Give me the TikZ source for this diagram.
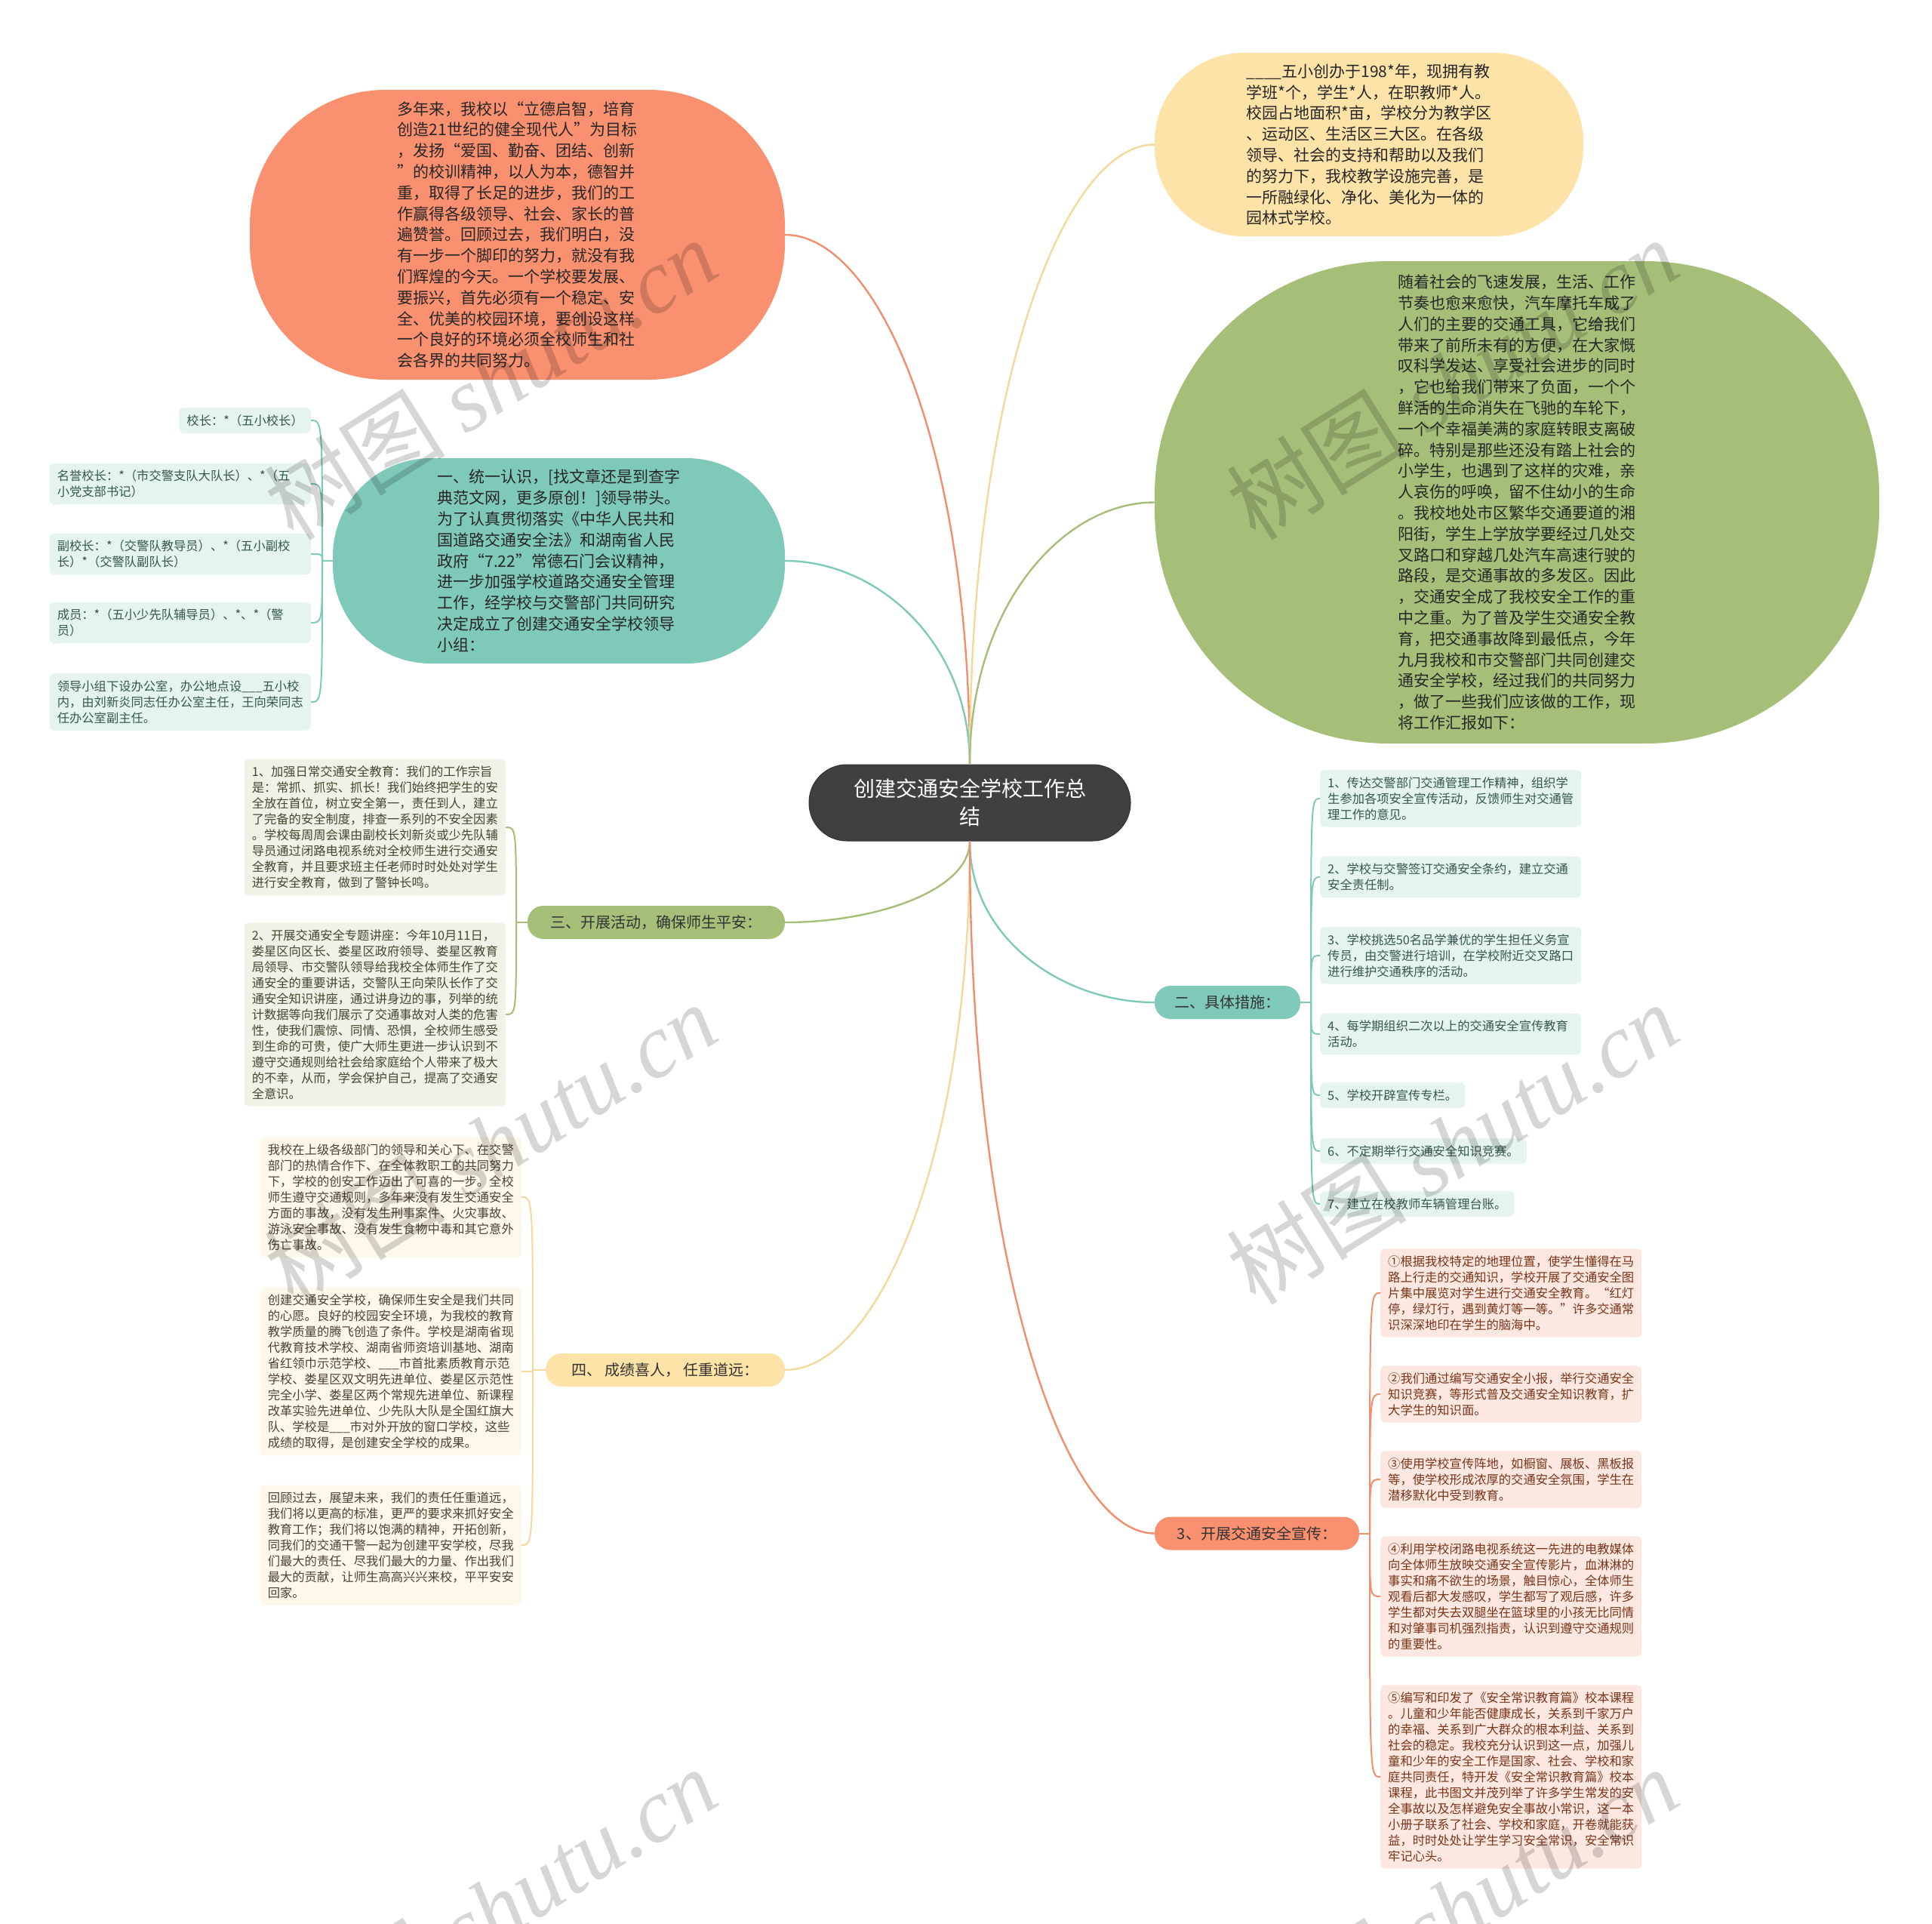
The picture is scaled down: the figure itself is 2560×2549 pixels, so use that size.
\documentclass[tikz,border=0pt]{standalone}
\usepackage{fontspec}
\setmainfont{Noto Sans CJK SC}
\newfontfamily\wmserif{Liberation Serif}
\usetikzlibrary{calc}
\definecolor{cOrange}{HTML}{F9906F}
\definecolor{cOrangeL}{HTML}{FDE8E1}
\definecolor{cOrangeT}{HTML}{7A3418}
\definecolor{cOrangeLine}{HTML}{F08E6E}
\definecolor{cTeal}{HTML}{7FC9B9}
\definecolor{cTealL}{HTML}{E6F4F0}
\definecolor{cTealT}{HTML}{34574F}
\definecolor{cGreen}{HTML}{A5BE78}
\definecolor{cGreenL}{HTML}{EFF2E6}
\definecolor{cGreenT}{HTML}{414A2E}
\definecolor{cYellow}{HTML}{FDE3A7}
\definecolor{cYellowL}{HTML}{FEF8EB}
\definecolor{cYellowT}{HTML}{4B4232}
\definecolor{cYellowLine}{HTML}{F5D99B}
\definecolor{cDark}{HTML}{404040}
\tikzset{
  ctrnode/.style={fill=cDark, draw=black!80, line width=1pt, text=white, align=center,
    font=\fontsize{28pt}{37pt}\selectfont, inner sep=0pt},
  bigshape/.style={align=left, inner sep=0pt, font=\fontsize{21pt}{27.8pt}\selectfont, text=black!85},
  mainlabel/.style={inner sep=0pt, minimum height=44pt, rounded corners=21pt,
    font=\fontsize{20pt}{24pt}\selectfont, text=black!80},
  leaf/.style={align=left, inner xsep=10pt, inner ysep=9pt, rounded corners=6pt,
    font=\fontsize{16.3pt}{21pt}\selectfont},
  wide/.style={text width=326pt},
  oleaf/.style={leaf, fill=cOrangeL, text=cOrangeT},
  tleaf/.style={leaf, fill=cTealL, text=cTealT},
  gleaf/.style={leaf, fill=cGreenL, text=cGreenT},
  yleaf/.style={leaf, fill=cYellowL, text=cYellowT},
  oline/.style={draw=cOrangeLine, line width=2.4pt},
  tline/.style={draw=cTeal, line width=2.4pt},
  gline/.style={draw=cGreen, line width=2.4pt},
  yline/.style={draw=cYellowLine, line width=2.4pt},
  osub/.style={draw=cOrangeLine, line width=2pt},
  tsub/.style={draw=cTeal, line width=2pt},
  gsub/.style={draw=cGreen, line width=2pt},
  ysub/.style={draw=cYellowLine, line width=2pt},
  wm/.style={text=black, text opacity=0.16, rotate=32, inner sep=0pt,
    font=\fontsize{120pt}{120pt}\selectfont}
}
\begin{document}
\begin{tikzpicture}[x=1pt,y=-1pt]
\fill[white] (0,0) rectangle (2560,2549);
\useasboundingbox (0,0) rectangle (2560,2549);

% ---------- center ----------
\node[ctrnode, minimum width=426pt, minimum height=101pt, rounded corners=50pt] (ctr) at (1285,1063.5)
  {创建交通安全学校工作总\\结};

% ---------- main shapes ----------
\node[bigshape, fill=cOrange, minimum width=709pt, minimum height=384pt, rounded corners=180pt] (A) at (685.5,311) {%
多年来，我校以“立德启智，培育\\
创造21世纪的健全现代人”为目标\\
，发扬“爱国、勤奋、团结、创新\\
”的校训精神，以人为本，德智并\\
重，取得了长足的进步，我们的工\\
作赢得各级领导、社会、家长的普\\
遍赞誉。回顾过去，我们明白，没\\
有一步一个脚印的努力，就没有我\\
们辉煌的今天。一个学校要发展、\\
要振兴，首先必须有一个稳定、安\\
全、优美的校园环境，要创设这样\\
一个良好的环境必须全校师生和社\\
会各界的共同努力。};

\node[bigshape, fill=cTeal, minimum width=599pt, minimum height=272pt, rounded corners=130pt] (B) at (740.5,743) {%
一、统一认识，[找文章还是到查字\\
典范文网，更多原创！]领导带头。\\
为了认真贯彻落实《中华人民共和\\
国道路交通安全法》和湖南省人民\\
政府“7.22”常德石门会议精神，\\
进一步加强学校道路交通安全管理\\
工作，经学校与交警部门共同研究\\
决定成立了创建交通安全学校领导\\
小组：};

\node[bigshape, fill=cYellow, minimum width=568pt, minimum height=243pt, rounded corners=118pt] (TR) at (1814,191.5) {%
\_\_\_\_五小创办于198*年，现拥有教\\
学班*个，学生*人，在职教师*人。\\
校园占地面积*亩，学校分为教学区\\
、运动区、生活区三大区。在各级\\
领导、社会的支持和帮助以及我们\\
的努力下，我校教学设施完善，是\\
一所融绿化、净化、美化为一体的\\
园林式学校。};

\node[bigshape, fill=cGreen, minimum width=960pt, minimum height=639pt, rounded corners=310pt] (G) at (2010,665.5) {%
随着社会的飞速发展，生活、工作\\
节奏也愈来愈快，汽车摩托车成了\\
人们的主要的交通工具，它给我们\\
带来了前所未有的方便，在大家慨\\
叹科学发达、享受社会进步的同时\\
，它也给我们带来了负面，一个个\\
鲜活的生命消失在飞驰的车轮下，\\
一个个幸福美满的家庭转眼支离破\\
碎。特别是那些还没有踏上社会的\\
小学生，也遇到了这样的灾难，亲\\
人哀伤的呼唤，留不住幼小的生命\\
。我校地处市区繁华交通要道的湘\\
阳街，学生上学放学要经过几处交\\
叉路口和穿越几处汽车高速行驶的\\
路段，是交通事故的多发区。因此\\
，交通安全成了我校安全工作的重\\
中之重。为了普及学生交通安全教\\
育，把交通事故降到最低点，今年\\
九月我校和市交警部门共同创建交\\
通安全学校，经过我们的共同努力\\
，做了一些我们应该做的工作，现\\
将工作汇报如下：};

% ---------- labels ----------
\node[mainlabel, fill=cGreen, minimum width=341pt] (L3) at (869.5,1222) {三、开展活动，确保师生平安：};
\node[mainlabel, fill=cYellow, minimum width=317pt] (L4) at (881.5,1815) {四、 成绩喜人， 任重道远：};
\node[mainlabel, fill=cTeal, minimum width=193pt] (L2) at (1626.5,1328) {二、具体措施：};
\node[mainlabel, fill=cOrange, minimum width=271pt] (Lx) at (1665.5,2031.5) {3、开展交通安全宣传：};

% ---------- B leaves ----------
\node[tleaf, anchor=east] (b1) at (412,557) {校长：*（五小校长）};
\node[tleaf, wide, anchor=east] (b2) at (412,641) {名誉校长：*（市交警支队大队长）、*（五\\小党支部书记）};
\node[tleaf, wide, anchor=east] (b3) at (412,734) {副校长：*（交警队教导员）、*（五小副校\\长）*（交警队副队长）};
\node[tleaf, wide, anchor=east] (b4) at (412,825) {成员：*（五小少先队辅导员）、*、*（警\\员）};
\node[tleaf, wide, anchor=east] (b5) at (412,930) {领导小组下设办公室，办公地点设\_\_\_五小校\\内，由刘新炎同志任办公室主任，王向荣同志\\任办公室副主任。};

% ---------- 三 leaves ----------
\node[gleaf, wide, anchor=east] (s1) at (670,1096) {%
1、加强日常交通安全教育：我们的工作宗旨\\
是：常抓、抓实、抓长！我们始终把学生的安\\
全放在首位，树立安全第一，责任到人，建立\\
了完备的安全制度，排查一系列的不安全因素\\
。学校每周周会课由副校长刘新炎或少先队辅\\
导员通过闭路电视系统对全校师生进行交通安\\
全教育，并且要求班主任老师时时处处对学生\\
进行安全教育，做到了警钟长鸣。};
\node[gleaf, wide, anchor=east] (s2) at (670,1344) {%
2、开展交通安全专题讲座：今年10月11日，\\
娄星区向区长、娄星区政府领导、娄星区教育\\
局领导、市交警队领导给我校全体师生作了交\\
通安全的重要讲话，交警队王向荣队长作了交\\
通安全知识讲座，通过讲身边的事，列举的统\\
计数据等向我们展示了交通事故对人类的危害\\
性，使我们震惊、同情、恐惧，全校师生感受\\
到生命的可贵，使广大师生更进一步认识到不\\
遵守交通规则给社会给家庭给个人带来了极大\\
的不幸，从而，学会保护自己，提高了交通安\\
全意识。};

% ---------- 四 leaves ----------
\node[yleaf, wide, anchor=east] (f1) at (691,1586) {%
我校在上级各级部门的领导和关心下、在交警\\
部门的热情合作下、在全体教职工的共同努力\\
下，学校的创安工作迈出了可喜的一步。全校\\
师生遵守交通规则，多年来没有发生交通安全\\
方面的事故，没有发生刑事案件、火灾事故、\\
游泳安全事故、没有发生食物中毒和其它意外\\
伤亡事故。};
\node[yleaf, wide, anchor=east] (f2) at (691,1817) {%
创建交通安全学校，确保师生安全是我们共同\\
的心愿。良好的校园安全环境，为我校的教育\\
教学质量的腾飞创造了条件。学校是湖南省现\\
代教育技术学校、湖南省师资培训基地、湖南\\
省红领巾示范学校、\_\_\_市首批素质教育示范\\
学校、娄星区双文明先进单位、娄星区示范性\\
完全小学、娄星区两个常规先进单位、新课程\\
改革实验先进单位、少先队大队是全国红旗大\\
队、学校是\_\_\_市对外开放的窗口学校，这些\\
成绩的取得，是创建安全学校的成果。};
\node[yleaf, wide, anchor=east] (f3) at (691,2047) {%
回顾过去，展望未来，我们的责任任重道远，\\
我们将以更高的标准，更严的要求来抓好安全\\
教育工作；我们将以饱满的精神，开拓创新，\\
同我们的交通干警一起为创建平安学校，尽我\\
们最大的责任、尽我们最大的力量、作出我们\\
最大的贡献，让师生高高兴兴来校，平平安安\\
回家。};

% ---------- 二 leaves ----------
\node[tleaf, wide, anchor=west] (e1) at (1749,1058) {1、传达交警部门交通管理工作精神，组织学\\生参加各项安全宣传活动，反馈师生对交通管\\理工作的意见。};
\node[tleaf, wide, anchor=west] (e2) at (1749,1162) {2、学校与交警签订交通安全条约，建立交通\\安全责任制。};
\node[tleaf, wide, anchor=west] (e3) at (1749,1266) {3、学校挑选50名品学兼优的学生担任义务宣\\传员，由交警进行培训，在学校附近交叉路口\\进行维护交通秩序的活动。};
\node[tleaf, wide, anchor=west] (e4) at (1749,1370) {4、每学期组织二次以上的交通安全宣传教育\\活动。};
\node[tleaf, anchor=west] (e5) at (1749,1451) {5、学校开辟宣传专栏。};
\node[tleaf, anchor=west] (e6) at (1749,1525) {6、不定期举行交通安全知识竞赛。};
\node[tleaf, anchor=west] (e7) at (1749,1595) {7、建立在校教师车辆管理台账。};

% ---------- 3 leaves ----------
\node[oleaf, wide, anchor=west] (p1) at (1829,1713) {%
①根据我校特定的地理位置，使学生懂得在马\\
路上行走的交通知识，学校开展了交通安全图\\
片集中展览对学生进行交通安全教育。“红灯\\
停，绿灯行，遇到黄灯等一等。”许多交通常\\
识深深地印在学生的脑海中。};
\node[oleaf, wide, anchor=west] (p2) at (1829,1847) {%
②我们通过编写交通安全小报，举行交通安全\\
知识竞赛，等形式普及交通安全知识教育，扩\\
大学生的知识面。};
\node[oleaf, wide, anchor=west] (p3) at (1829,1960) {%
③使用学校宣传阵地，如橱窗、展板、黑板报\\
等，使学校形成浓厚的交通安全氛围，学生在\\
潜移默化中受到教育。};
\node[oleaf, wide, anchor=west] (p4) at (1829,2115) {%
④利用学校闭路电视系统这一先进的电教媒体\\
向全体师生放映交通安全宣传影片，血淋淋的\\
事实和痛不欲生的场景，触目惊心，全体师生\\
观看后都大发感叹，学生都写了观后感，许多\\
学生都对失去双腿坐在篮球里的小孩无比同情\\
和对肇事司机强烈指责，认识到遵守交通规则\\
的重要性。};
\node[oleaf, wide, anchor=west] (p5) at (1829,2354) {%
⑤编写和印发了《安全常识教育篇》校本课程\\
。儿童和少年能否健康成长，关系到千家万户\\
的幸福、关系到广大群众的根本利益、关系到\\
社会的稳定。我校充分认识到这一点，加强儿\\
童和少年的安全工作是国家、社会、学校和家\\
庭共同责任，特开发《安全常识教育篇》校本\\
课程，此书图文并茂列举了许多学生常发的安\\
全事故以及怎样避免安全事故小常识，这一本\\
小册子联系了社会、学校和家庭，开卷就能获\\
益，时时处处让学生学习安全常识，安全常识\\
牢记心头。};

% ---------- main connectors ----------
\draw[oline] (A.east) .. controls ($(A.east)!0.5!(A.east -| ctr.north)$) and ($(ctr.north)!0.6!(ctr.north |- A.east)$) .. (ctr.north);
\draw[tline] (B.east) .. controls ($(B.east)!0.5!(B.east -| ctr.north)$) and ($(ctr.north)!0.6!(ctr.north |- B.east)$) .. (ctr.north);
\draw[yline] (TR.west) .. controls ($(TR.west)!0.5!(TR.west -| ctr.north)$) and ($(ctr.north)!0.6!(ctr.north |- TR.west)$) .. (ctr.north);
\draw[gline] (G.west) .. controls ($(G.west)!0.5!(G.west -| ctr.north)$) and ($(ctr.north)!0.6!(ctr.north |- G.west)$) .. (ctr.north);
\draw[gline] (L3.east) .. controls ($(L3.east)!0.5!(L3.east -| ctr.south)$) and ($(ctr.south)!0.6!(ctr.south |- L3.east)$) .. (ctr.south);
\draw[yline] (L4.east) .. controls ($(L4.east)!0.5!(L4.east -| ctr.south)$) and ($(ctr.south)!0.6!(ctr.south |- L4.east)$) .. (ctr.south);
\draw[tline] (L2.west) .. controls ($(L2.west)!0.5!(L2.west -| ctr.south)$) and ($(ctr.south)!0.6!(ctr.south |- L2.west)$) .. (ctr.south);
\draw[oline] (Lx.west) .. controls ($(Lx.west)!0.5!(Lx.west -| ctr.south)$) and ($(ctr.south)!0.6!(ctr.south |- Lx.west)$) .. (ctr.south);

% ---------- leaf connectors ----------
\coordinate (jB) at (427,743);
\draw[tsub] (B.west) -- (jB);
\foreach \n in {b1,b2,b3,b4,b5}
  \draw[tsub] (jB) .. controls (jB |- \n.east) .. (\n.east);

\coordinate (j3) at (684,1222);
\draw[gsub] (L3.west) -- (j3);
\foreach \n in {s1,s2}
  \draw[gsub] (j3) .. controls (j3 |- \n.east) .. (\n.east);

\coordinate (j4) at (706,1815);
\draw[ysub] (L4.west) -- (j4);
\foreach \n in {f1,f2,f3}
  \draw[ysub] (j4) .. controls (j4 |- \n.east) .. (\n.east);

\coordinate (j2) at (1737,1328);
\draw[tsub] (L2.east) -- (j2);
\foreach \n in {e1,e2,e3,e4,e5,e6,e7}
  \draw[tsub] (j2) .. controls (j2 |- \n.west) .. (\n.west);

\coordinate (jx) at (1815,2031.5);
\draw[osub] (Lx.east) -- (jx);
\foreach \n in {p1,p2,p3,p4,p5}
  \draw[osub] (jx) .. controls (jx |- \n.west) .. (\n.west);

% ---------- watermark ----------
\foreach \wx/\wy [count=\i] in {650/502, 1924/502, 650/1515, 1924/1515, 650/2528, 1924/2528}
  \node[wm] (wm\i) at (\wx,\wy) {树图 {\wmserif\itshape shutu.cn}};
\end{tikzpicture}
\end{document}
